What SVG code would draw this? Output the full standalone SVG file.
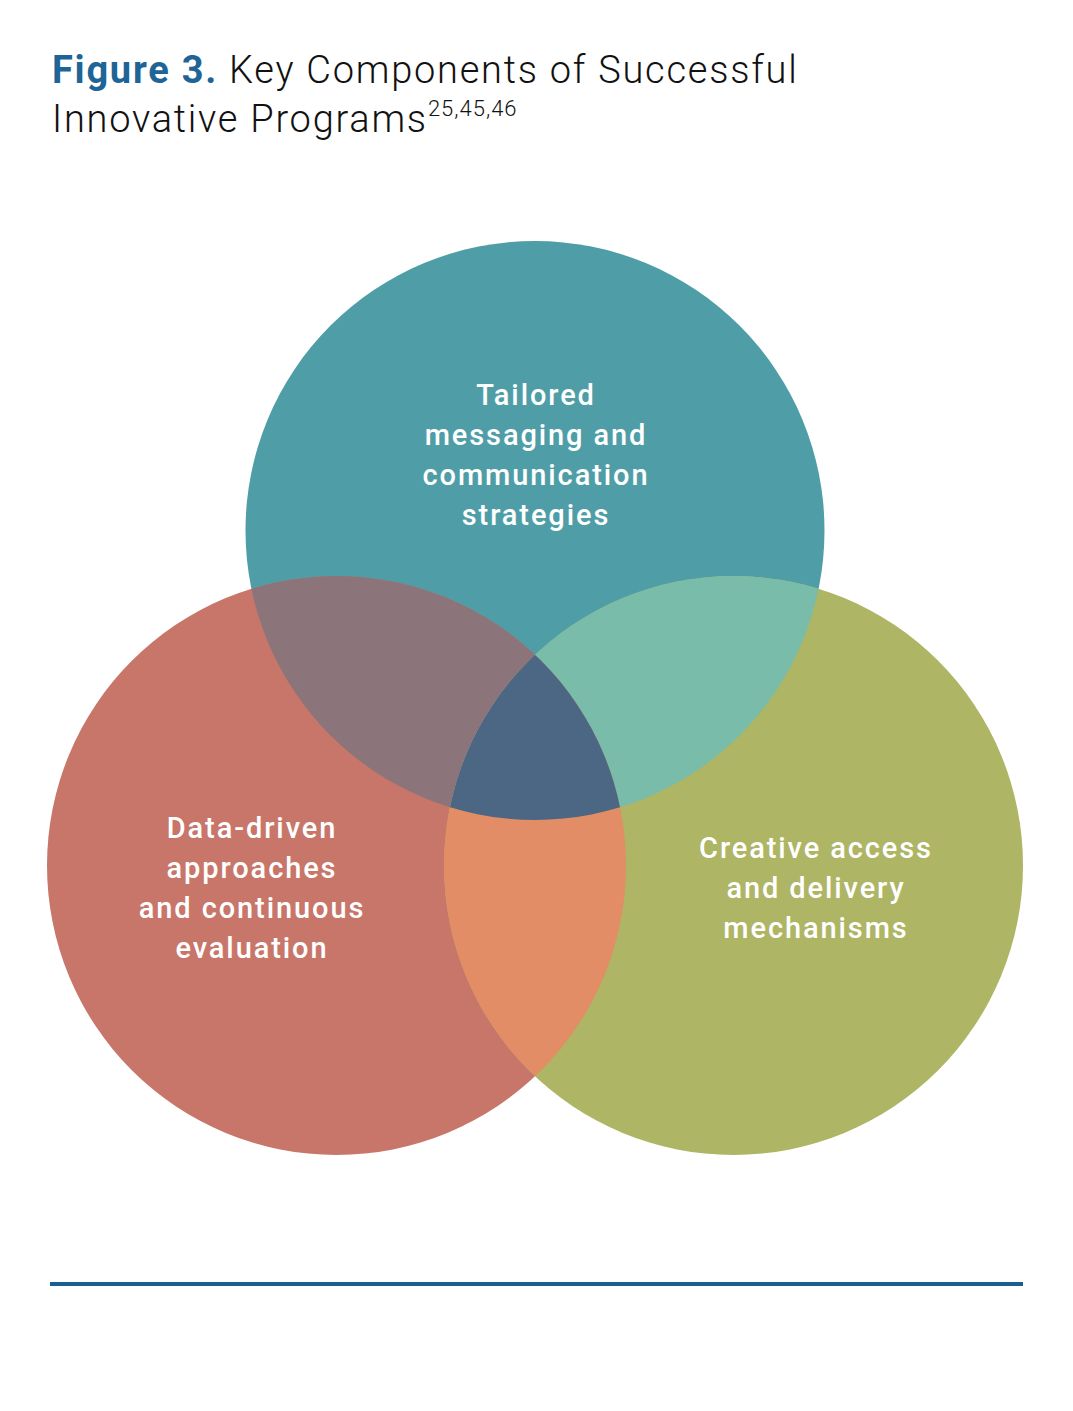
<svg xmlns="http://www.w3.org/2000/svg" width="1073" height="1411" viewBox="0 0 1073 1411">
<style>
.title{font-family:Roboto,"Liberation Sans",sans-serif;font-size:38px;fill:#111;font-weight:300;letter-spacing:1.75px}
.lbl{font-family:Roboto,"Liberation Sans",sans-serif;font-size:29px;fill:#fff;font-weight:500;text-anchor:middle;letter-spacing:1.9px}
</style>
<defs>
<clipPath id="cT"><circle cx="535" cy="530.5" r="289.5"/></clipPath>
<clipPath id="cL"><circle cx="336.5" cy="865.5" r="289.5"/></clipPath>
<clipPath id="cR"><circle cx="733.5" cy="865.5" r="289.5"/></clipPath>
</defs>
<rect width="1073" height="1411" fill="#fff"/>
<g id="title">
<text class="title" x="52" y="83"><tspan font-weight="700" fill="#1F6496">Figure 3.</tspan> Key Components of Successful</text>
<text class="title" x="52" y="132">Innovative Programs<tspan font-size="22" dy="-16" letter-spacing="1px">25,45,46</tspan></text>
</g>
<g id="node-top"><circle cx="535" cy="530.5" r="289.5" fill="#4F9EA7"/></g>
<g id="node-left"><circle cx="336.5" cy="865.5" r="289.5" fill="#C8766A"/></g>
<g id="node-right"><circle cx="733.5" cy="865.5" r="289.5" fill="#AEB564"/></g>
<g id="overlaps">
<circle cx="535" cy="530.5" r="289.5" fill="#8B747A" clip-path="url(#cL)"/>
<circle cx="535" cy="530.5" r="289.5" fill="#78BCA9" clip-path="url(#cR)"/>
<circle cx="336.5" cy="865.5" r="289.5" fill="#E28D66" clip-path="url(#cR)"/>
<g clip-path="url(#cR)"><circle cx="535" cy="530.5" r="289.5" fill="#4B6783" clip-path="url(#cL)"/></g>
</g>
<g id="labels">
<text class="lbl"><tspan x="536" y="405">Tailored</tspan><tspan x="536" y="445">messaging and</tspan><tspan x="536" y="485">communication</tspan><tspan x="536" y="525">strategies</tspan></text>
<text class="lbl"><tspan x="252" y="838">Data-driven</tspan><tspan x="252" y="878">approaches</tspan><tspan x="252" y="918">and continuous</tspan><tspan x="252" y="958">evaluation</tspan></text>
<text class="lbl"><tspan x="816" y="858">Creative access</tspan><tspan x="816" y="898">and delivery</tspan><tspan x="816" y="938">mechanisms</tspan></text>
</g>
<line x1="50" y1="1284" x2="1023" y2="1284" stroke="#1B5F8F" stroke-width="4"/>
</svg>
